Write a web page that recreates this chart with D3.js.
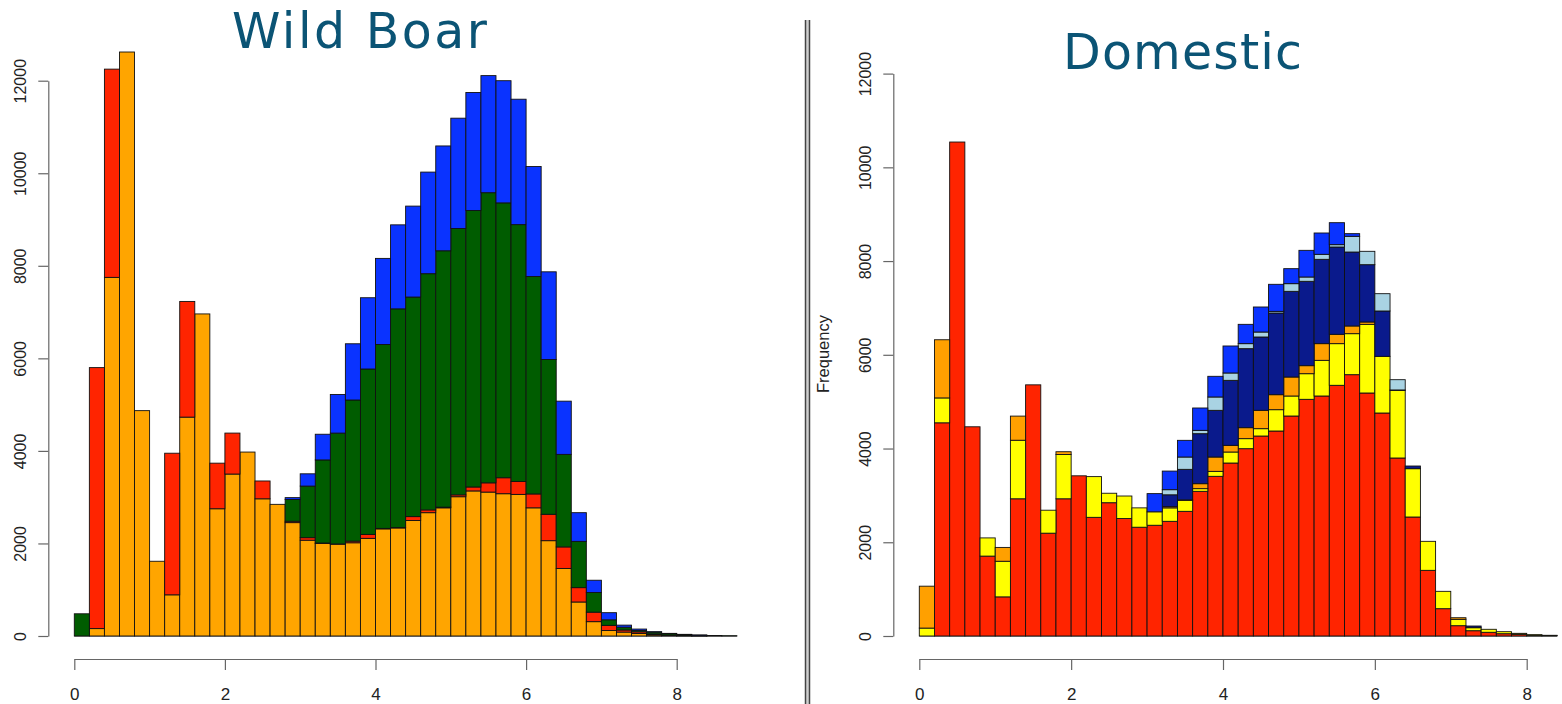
<!DOCTYPE html>
<html>
<head>
<meta charset="utf-8">
<script src="https://cdn.jsdelivr.net/npm/d3@7"></script>
<style>
  html, body { margin: 0; padding: 0; background: #fff; }
  svg { display: block; }
  .tick text { font-family: "Liberation Sans", Arial, sans-serif; font-size: 16px; fill: #222; }
</style>
</head>
<body>
<svg id="chart" width="1562" height="704"></svg>
<script>
// ---------- DATA ----------
const binWidth = 0.2;
const xTicks = [0, 2, 4, 6, 8];
const yTicks = [0, 2000, 4000, 6000, 8000, 10000, 12000];
const titles = ["Wild Boar", "Domestic"];
const yLabel = "Frequency";

// Wild boar: stacked segments, bottom to top
const wbOrange = [0,160,7750,12620,4870,1615,890,4730,6960,2750,3500,3975,2965,2845,2450,2070,2000,1985,2015,2110,2315,2335,2495,2665,2770,3010,3135,3110,3075,3060,2770,2060,1460,735,310,120,85,55,25,10,5,3,0,0];
const wbRed    = [0,5640,4500,0,0,0,3060,2500,0,985,885,0,385,0,30,55,10,5,35,85,10,10,85,60,15,40,85,200,345,280,300,570,465,310,205,110,45,35,20,10,5,3,0,0];
const wbGreen  = [480,0,0,0,0,0,0,0,0,0,0,0,0,0,470,1115,1795,2395,3050,3575,3975,4725,4745,5105,5540,5755,5975,6270,5940,5550,4700,3345,2000,1000,425,120,60,30,40,30,20,12,10,5];
const wbBlue   = [0,0,0,0,0,0,0,0,0,0,0,0,0,0,40,265,555,835,1215,1540,1860,1815,1965,2195,2265,2385,2550,2530,2640,2710,2375,1895,1150,620,265,154,45,30,8,7,6,4,0,0];

// Domestic: stacked segments, bottom to top
const dRed       = [0,4549,10540,4464,1705,835,2928,5359,2194,2928,3418,2532,2844,2506,2321,2363,2447,2660,3087,3407,3691,3997,4267,4374,4694,5050,5121,5349,5576,5185,4758,3798,2539,1401,583,220,113,79,49,35,18,10];
const dYellow    = [169,531,0,0,388,760,1249,0,490,945,0,869,202,481,413,287,287,235,57,106,235,214,157,455,427,547,761,889,875,1465,1209,1444,1031,619,370,136,64,64,43,22,10,5];
const dOrange    = [894,1241,0,0,0,295,515,0,0,59,0,0,0,0,0,0,26,10,106,306,142,234,391,320,405,171,356,199,164,50,0,0,0,0,0,34,0,0,0,0,0,0];
const dNavy      = [0,0,0,0,0,0,0,0,0,0,0,0,0,0,0,0,253,651,1067,996,1387,1686,1565,1743,1828,1800,1799,1863,1578,1223,968,8,57,0,0,0,36,0,0,0,0,0];
const dLightBlue = [0,0,0,0,0,0,0,0,0,0,0,0,0,0,0,0,109,263,71,285,157,107,106,35,164,92,107,50,335,285,369,219,0,0,0,0,0,0,0,0,0,0];
const dBlue      = [0,0,0,0,0,0,0,0,0,0,0,0,0,0,0,388,397,356,477,441,576,412,534,577,320,569,455,469,57,0,0,0,0,0,0,0,0,0,0,0,0,0];

// ---------- CHART ----------
const svg = d3.select("#chart");

const panels = [
  {
    title: titles[0], titleX: 359.5, titleY: 48, titleLen: 255,
    xRange: [74.3, 676.7], yRange: [636, 80.7], axisX: 48.3, showYLabel: false,
    series: [
      {key: "orange", values: wbOrange, color: "#FFA500"},
      {key: "red", values: wbRed, color: "#FF2400"},
      {key: "green", values: wbGreen, color: "#005C00"},
      {key: "blue", values: wbBlue, color: "#0A33FF"}
    ]
  },
  {
    title: titles[1], titleX: 1182.5, titleY: 69, titleLen: 239,
    xRange: [919.3, 1526.7], yRange: [636, 73.6], axisX: 893.3, showYLabel: true,
    series: [
      {key: "red", values: dRed, color: "#FF2400"},
      {key: "yellow", values: dYellow, color: "#FFFF00"},
      {key: "orange", values: dOrange, color: "#FFA000"},
      {key: "navy", values: dNavy, color: "#0A1A8C"},
      {key: "lightblue", values: dLightBlue, color: "#A9D3E3"},
      {key: "blue", values: dBlue, color: "#0A33FF"}
    ]
  }
];

panels.forEach(p => {
  const n = p.series[0].values.length;
  const x = d3.scaleLinear().domain([0, 8]).range(p.xRange);
  const y = d3.scaleLinear().domain([0, 12000]).range(p.yRange);

  const table = d3.range(n).map(i => {
    const row = {bin: i};
    p.series.forEach(s => row[s.key] = s.values[i]);
    return row;
  });
  const stack = d3.stack().keys(p.series.map(s => s.key))(table);

  const g = svg.append("g");

  // baseline (zero-height bins)
  g.append("line")
    .attr("x1", x(0)).attr("x2", x(n * binWidth))
    .attr("y1", y(0)).attr("y2", y(0))
    .attr("stroke", "#333").attr("stroke-width", 1);

  stack.forEach((layer, li) => {
    const color = p.series[li].color;
    g.append("g").selectAll("rect")
      .data(layer.filter(d => d[1] - d[0] > 0))
      .join("rect")
      .attr("x", d => x(d.data.bin * binWidth))
      .attr("width", d => x((d.data.bin + 1) * binWidth) - x(d.data.bin * binWidth))
      .attr("y", d => y(d[1]))
      .attr("height", d => y(d[0]) - y(d[1]))
      .attr("fill", color)
      .attr("stroke", "#111")
      .attr("stroke-width", 0.9);
  });

  // y axis
  const ya = g.append("g")
    .attr("transform", `translate(${p.axisX},0)`)
    .call(d3.axisLeft(y).tickValues(yTicks).tickSize(10).tickSizeOuter(0).tickFormat(d3.format("d")));
  ya.select(".domain").attr("stroke", "#666").attr("stroke-width", 1.2);
  ya.selectAll(".tick line").attr("stroke", "#666").attr("stroke-width", 1.2);
  ya.selectAll(".tick text")
    .attr("x", 0).attr("y", -22.3).attr("dy", null)
    .attr("text-anchor", "middle")
    .attr("transform", "rotate(-90)");

  // x axis
  const xa = g.append("g")
    .attr("transform", `translate(0,659)`)
    .call(d3.axisBottom(x).tickValues(xTicks).tickSize(11).tickSizeOuter(0).tickFormat(d3.format("d")));
  xa.select(".domain").attr("stroke", "#666").attr("stroke-width", 1.2);
  xa.selectAll(".tick line").attr("stroke", "#666").attr("stroke-width", 1.2);
  xa.selectAll(".tick text").attr("y", 41).attr("dy", null).style("font-size", "17px");

  // title
  svg.append("text")
    .attr("x", p.titleX).attr("y", p.titleY)
    .attr("text-anchor", "middle")
    .attr("textLength", p.titleLen).attr("lengthAdjust", "spacing")
    .style("font-family", "'DejaVu Sans', Verdana, sans-serif")
    .style("font-size", "49px")
    .attr("fill", "#0B5475")
    .text(p.title);

  if (p.showYLabel) {
    svg.append("text")
      .attr("transform", `translate(829,354) rotate(-90)`)
      .attr("text-anchor", "middle")
      .style("font-family", "'Liberation Sans', Arial, sans-serif")
      .style("font-size", "16.5px")
      .attr("fill", "#222")
      .text(yLabel);
  }
});

// divider
svg.append("rect").attr("x", 805).attr("y", 20).attr("width", 5).attr("height", 684).attr("fill", "#cfcfcf");
svg.append("line").attr("x1", 805.5).attr("x2", 805.5).attr("y1", 20).attr("y2", 704).attr("stroke", "#444").attr("stroke-width", 1.5);
svg.append("line").attr("x1", 809.5).attr("x2", 809.5).attr("y1", 20).attr("y2", 704).attr("stroke", "#444").attr("stroke-width", 1.5);
</script>
</body>
</html>
